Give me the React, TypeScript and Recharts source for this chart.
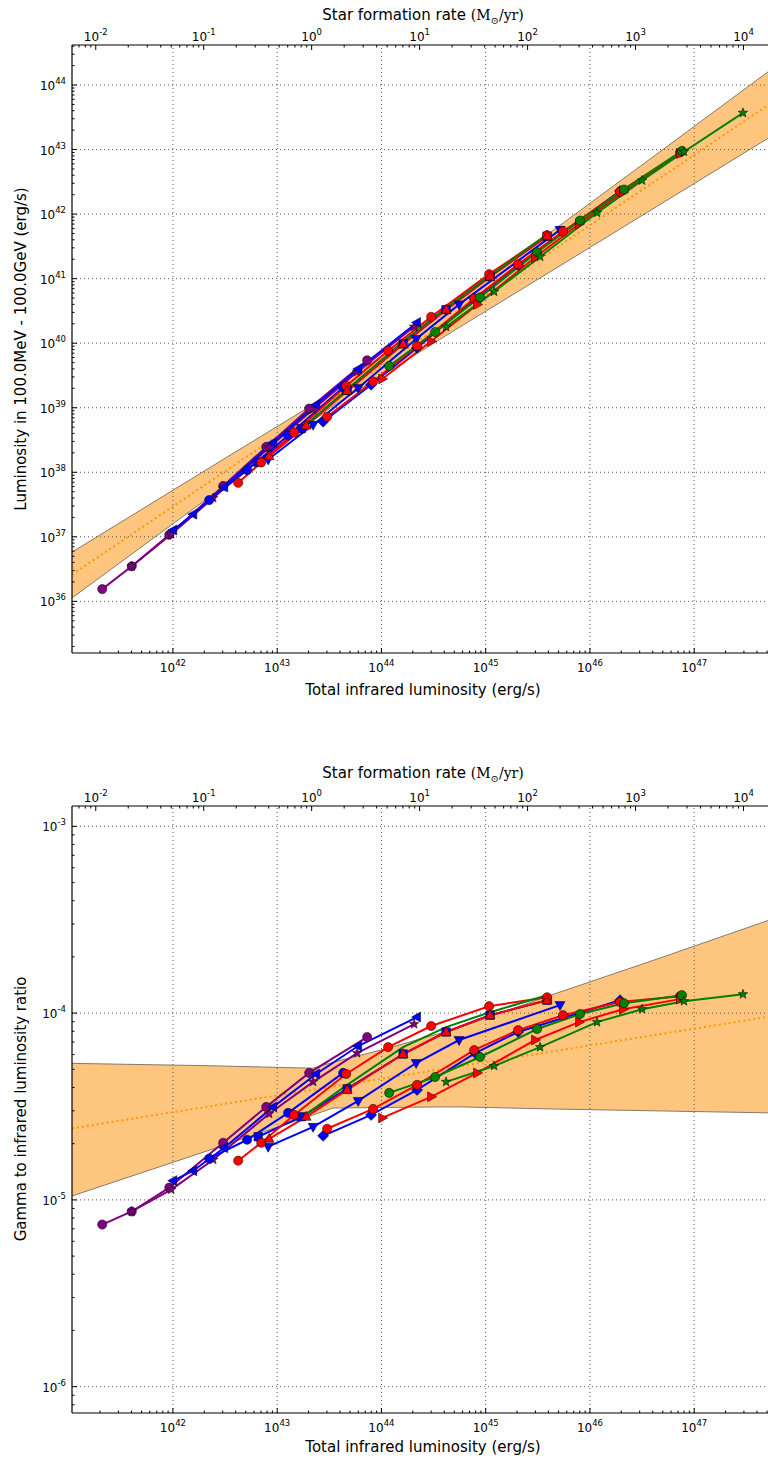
import React from 'react';
import { Area, ComposedChart, Line, ReferenceLine, XAxis, YAxis } from 'recharts';

// Each track: [log10 L_IR (erg/s), log10 (L_gamma / L_IR)].
// The luminosity panel uses log L_gamma = log L_IR + log ratio.
const purpleCircle = [[41.322, -5.132], [41.605, -5.062], [41.965, -4.934], [42.482, -4.694], [42.895, -4.502], [43.307, -4.32], [43.863, -4.128]];
const purpleStar = [[41.605, -5.062], [41.984, -4.945], [42.386, -4.785], [42.923, -4.539], [43.345, -4.368], [43.767, -4.214], [44.314, -4.059]];
const blueTriLeft = [[42.003, -4.897], [42.195, -4.844], [42.492, -4.721], [42.962, -4.502], [43.374, -4.326], [43.777, -4.176], [44.342, -4.021]];
const blueCircle = [[42.348, -4.779], [42.712, -4.678], [43.105, -4.534], [43.633, -4.32]];
const blueSquare = [[42.818, -4.662], [43.23, -4.555], [43.671, -4.406], [44.208, -4.219], [44.62, -4.101], [45.042, -4.011], [45.589, -3.931]];
const blueTriDown = [[42.914, -4.715], [43.345, -4.609], [43.777, -4.47], [44.333, -4.267], [44.745, -4.144], [45.713, -3.957]];
const blueDiamond = [[43.441, -4.657], [43.901, -4.545], [44.342, -4.411], [44.899, -4.214], [45.311, -4.101], [46.289, -3.931]];
const redCircleA = [[42.626, -4.79], [42.847, -4.694], [43.163, -4.545], [43.662, -4.326], [44.064, -4.182], [44.477, -4.069], [45.033, -3.963], [45.589, -3.915]];
const redTriUp = [[42.923, -4.673], [43.278, -4.555], [43.671, -4.411], [44.208, -4.219], [44.62, -4.101], [45.042, -4.011], [45.589, -3.931]];
const redCircleB = [[43.479, -4.619], [43.92, -4.513], [44.342, -4.384], [44.889, -4.198], [45.311, -4.091], [45.742, -4.011], [46.289, -3.941], [46.864, -3.909]];
const redTriRight = [[44.007, -4.561], [44.477, -4.448], [44.918, -4.32], [45.474, -4.144], [45.896, -4.048], [46.317, -3.979], [46.864, -3.925]];
const greenPlain = [[43.23, -4.561], [43.671, -4.384], [44.208, -4.182], [44.62, -4.075], [45.042, -3.995], [45.589, -3.904]];
const greenCircle = [[44.074, -4.427], [44.515, -4.342], [44.946, -4.235], [45.493, -4.085], [45.905, -4.005], [46.327, -3.947], [46.883, -3.904]];
const greenStar = [[44.62, -4.368], [45.081, -4.283], [45.522, -4.182], [46.068, -4.048], [46.5, -3.979], [46.902, -3.936], [47.468, -3.899]];

// relation band (log ratio) and its central line
const bandX = [41.032, 42.386, 43.345, 43.537, 44.055, 44.563, 44.755, 45.618, 46.605, 47.708];
const bandUpper = [-4.269, -4.282, -4.295, -4.263, -4.189, -4.108, -4.076, -3.905, -3.718, -3.504];
const bandLower = [-4.979, -4.727, -4.545, -4.508, -4.505, -4.502, -4.502, -4.513, -4.523, -4.534];
const centerX = [41.032, 47.708];
const centerR = [-4.617, -4.02];

// axes (decades)
const irDomain = [41.032, 47.708];
const sfrDomain = [-2.22, 4.227];
const lumDomain = [35.2, 44.62];
const ratioDomain = [-6.141, -2.891];
const irMajor = [42, 43, 44, 45, 46, 47];
const lumMajor = [36, 37, 38, 39, 40, 41, 42, 43, 44];
const ratioMajor = [-6, -5, -4, -3];

const PURPLE = '#800080';
const BLUE = '#0000ff';
const RED = '#ff0000';
const GREEN = '#008000';
const FONT = "'DejaVu Sans', sans-serif";

const tracks = [
  { name: 'purpleCircle', pts: purpleCircle, color: PURPLE, shape: 'circle' },
  { name: 'purpleStar', pts: purpleStar, color: PURPLE, shape: 'star' },
  { name: 'blueTriLeft', pts: blueTriLeft, color: BLUE, shape: 'triLeft' },
  { name: 'blueCircle', pts: blueCircle, color: BLUE, shape: 'circle' },
  { name: 'blueSquare', pts: blueSquare, color: BLUE, shape: 'square' },
  { name: 'blueTriDown', pts: blueTriDown, color: BLUE, shape: 'triDown' },
  { name: 'blueDiamond', pts: blueDiamond, color: BLUE, shape: 'diamond' },
  { name: 'redCircleA', pts: redCircleA, color: RED, shape: 'circle' },
  { name: 'redTriUp', pts: redTriUp, color: RED, shape: 'triUp' },
  { name: 'redCircleB', pts: redCircleB, color: RED, shape: 'circle' },
  { name: 'redTriRight', pts: redTriRight, color: RED, shape: 'triRight' },
  { name: 'greenPlain', pts: greenPlain, color: GREEN, shape: 'none' },
  { name: 'greenCircle', pts: greenCircle, color: GREEN, shape: 'circle' },
  { name: 'greenStar', pts: greenStar, color: GREEN, shape: 'star' },
];

const withMinor = (lo: number, hi: number) => {
  const out: number[] = [];
  for (let d = Math.floor(lo); d <= Math.ceil(hi); d++) {
    for (let k = 1; k <= 9; k++) {
      const v = +(d + Math.log10(k)).toFixed(5);
      if (v >= lo && v <= hi) out.push(v);
    }
  }
  return out;
};

const isMajor = (v: number) => Math.abs(v - Math.round(v)) < 1e-6;

const Marker = ({ shape, cx, cy, fill }: any) => {
  if (cx == null || cy == null || shape === 'none') return <g />;
  const st = { fill, stroke: '#000', strokeWidth: 0.5 };
  const pts = (arr: number[][]) => arr.map(([a, b]) => `${cx + a},${cy + b}`).join(' ');
  switch (shape) {
    case 'circle':
      return <circle cx={cx} cy={cy} r={4.6} {...st} />;
    case 'square':
      return <rect x={cx - 4.2} y={cy - 4.2} width={8.4} height={8.4} {...st} />;
    case 'diamond':
      return <polygon points={pts([[0, -5.5], [5.5, 0], [0, 5.5], [-5.5, 0]])} {...st} />;
    case 'triUp':
      return <polygon points={pts([[0, -5.5], [5, 3.5], [-5, 3.5]])} {...st} />;
    case 'triDown':
      return <polygon points={pts([[0, 5.5], [5, -3.5], [-5, -3.5]])} {...st} />;
    case 'triLeft':
      return <polygon points={pts([[-5.5, 0], [3.5, -5], [3.5, 5]])} {...st} />;
    case 'triRight':
      return <polygon points={pts([[5.5, 0], [-3.5, -5], [-3.5, 5]])} {...st} />;
    case 'star': {
      const arr: number[][] = [];
      for (let i = 0; i < 10; i++) {
        const rr = i % 2 === 0 ? 5 : 2.1;
        const a = -Math.PI / 2 + (i * Math.PI) / 5;
        arr.push([rr * Math.cos(a), rr * Math.sin(a)]);
      }
      return <polygon points={pts(arr)} {...st} />;
    }
    default:
      return <g />;
  }
};

const Pow = ({ v }: { v: number }) => (
  <>
    10<tspan dy={-6} fontSize={8.5}>{Math.round(v)}</tspan>
  </>
);

const makeTick = (side: 'bottom' | 'top' | 'left') => (props: any) => {
  const { x, y, payload } = props;
  const v = payload.value;
  const major = isMajor(v);
  const len = major ? 5 : 2.5;
  const txt = { fontFamily: FONT, fontSize: 12, fill: '#000' };
  if (side === 'bottom') {
    return (
      <g>
        <line x1={x} x2={x} y1={y} y2={y - len} stroke="#000" strokeWidth={1} />
        {major && (
          <text x={x} y={y + 19} textAnchor="middle" {...txt}>
            <Pow v={v} />
          </text>
        )}
      </g>
    );
  }
  if (side === 'top') {
    return (
      <g>
        <line x1={x} x2={x} y1={y} y2={y + len} stroke="#000" strokeWidth={1} />
        {major && (
          <text x={x} y={y - 4} textAnchor="middle" {...txt}>
            <Pow v={v} />
          </text>
        )}
      </g>
    );
  }
  return (
    <g>
      <line x1={x} x2={x + len} y1={y} y2={y} stroke="#000" strokeWidth={1} />
      {major && (
        <text x={x - 6} y={y + 5} textAnchor="end" {...txt}>
          <Pow v={v} />
        </text>
      )}
    </g>
  );
};

const Panel = ({ mode, height, yDomain, yMajor }: any) => {
  const toY = (x: number, r: number) => (mode === 'lum' ? x + r : r);
  const band = bandX.map((x, i) => ({ x, range: [toY(x, bandLower[i]), toY(x, bandUpper[i])] }));
  const center = centerX.map((x, i) => ({ x, y: toY(x, centerR[i]) }));
  // invisible carrier so the star-formation-rate axis gets a domain
  const sfrCarrier = sfrDomain.map((s) => ({ s, y: yDomain[0] }));
  const irTicks = withMinor(irDomain[0], irDomain[1]);
  const sfrTicks = withMinor(sfrDomain[0], sfrDomain[1]);
  const yTicks = withMinor(yDomain[0], yDomain[1]);
  const plotH = mode === 'lum' ? 608 : 607;
  return (
    <ComposedChart width={768} height={height} margin={{ top: 0, right: 0, bottom: 0, left: 0 }}>
      <XAxis
        xAxisId="sfr"
        dataKey="s"
        orientation="top"
        type="number"
        domain={sfrDomain}
        allowDataOverflow
        ticks={sfrTicks}
        interval={0}
        height={45}
        tickSize={0}
        tickMargin={0}
        tick={makeTick('top')}
        axisLine={{ stroke: '#000', strokeWidth: 1.2 }}
      />
      <XAxis
        dataKey="x"
        type="number"
        domain={irDomain}
        allowDataOverflow
        ticks={irTicks}
        interval={0}
        height={height - 45 - plotH}
        tickSize={0}
        tickMargin={0}
        tick={makeTick('bottom')}
        axisLine={{ stroke: '#000', strokeWidth: 1.2 }}
      />
      <YAxis
        type="number"
        domain={yDomain}
        allowDataOverflow
        ticks={yTicks}
        interval={0}
        width={72}
        tickSize={0}
        tickMargin={0}
        tick={makeTick('left')}
        axisLine={{ stroke: '#000', strokeWidth: 1.2 }}
      />
      <Line
        xAxisId="sfr"
        data={sfrCarrier}
        dataKey="y"
        stroke="none"
        dot={false}
        activeDot={false}
        isAnimationActive={false}
      />
      <Area
        data={band}
        dataKey="range"
        type="linear"
        fill="#fec57f"
        fillOpacity={1}
        stroke="#857a6c"
        strokeWidth={1}
        isAnimationActive={false}
        dot={false}
        activeDot={false}
      />
      {irMajor.map((v) => (
        <ReferenceLine key={`gx${v}`} x={v} stroke="#555" strokeDasharray="1 3" strokeWidth={1} />
      ))}
      {yMajor.map((v: number) => (
        <ReferenceLine key={`gy${v}`} y={v} stroke="#555" strokeDasharray="1 3" strokeWidth={1} />
      ))}
      <Line
        data={center}
        dataKey="y"
        type="linear"
        stroke="#ff9900"
        strokeWidth={2}
        strokeDasharray="2 3"
        dot={false}
        activeDot={false}
        isAnimationActive={false}
      />
      {tracks.map((t) => (
        <Line
          key={t.name}
          data={t.pts.map(([x, r]) => ({ x, y: toY(x, r) }))}
          dataKey="y"
          type="linear"
          stroke={t.color}
          strokeWidth={2}
          isAnimationActive={false}
          activeDot={false}
          dot={(p: any) => <Marker key={`${t.name}-${p.index}`} shape={t.shape} cx={p.cx} cy={p.cy} fill={t.color} />}
        />
      ))}
    </ComposedChart>
  );
};

const title = (left: number, top: number, rotate = false): React.CSSProperties => ({
  position: 'absolute',
  left,
  top,
  transform: `translate(-50%, -50%)${rotate ? ' rotate(-90deg)' : ''}`,
  whiteSpace: 'nowrap',
  fontFamily: FONT,
  fontSize: 15,
  lineHeight: '18px',
  color: '#000',
});

const SfrTitle = () => (
  <>
    Star formation rate{' '}
    <span style={{ fontFamily: "'DejaVu Serif', serif", fontSize: 14 }}>
      (M<sub style={{ fontSize: 10, lineHeight: 0 }}>⊙</sub>/yr)
    </span>
  </>
);

export default function App() {
  return (
    <div style={{ position: 'absolute', left: 0, top: 0, width: 768, height: 1461, background: '#fff', overflow: 'hidden' }}>
      <div style={{ position: 'absolute', left: 0, top: 0 }}>
        <Panel mode="lum" height={703} yDomain={lumDomain} yMajor={lumMajor} />
      </div>
      <div style={{ position: 'absolute', left: 0, top: 761 }}>
        <Panel mode="ratio" height={700} yDomain={ratioDomain} yMajor={ratioMajor} />
      </div>
      <div style={title(423, 15)}>
        <SfrTitle />
      </div>
      <div style={title(423, 690)}>Total infrared luminosity (erg/s)</div>
      <div style={title(21, 349, true)}>Luminosity in 100.0MeV - 100.0GeV (erg/s)</div>
      <div style={title(423, 773)}>
        <SfrTitle />
      </div>
      <div style={title(423, 1447)}>Total infrared luminosity (erg/s)</div>
      <div style={title(21, 1109, true)}>Gamma to infrared luminosity ratio</div>
    </div>
  );
}
